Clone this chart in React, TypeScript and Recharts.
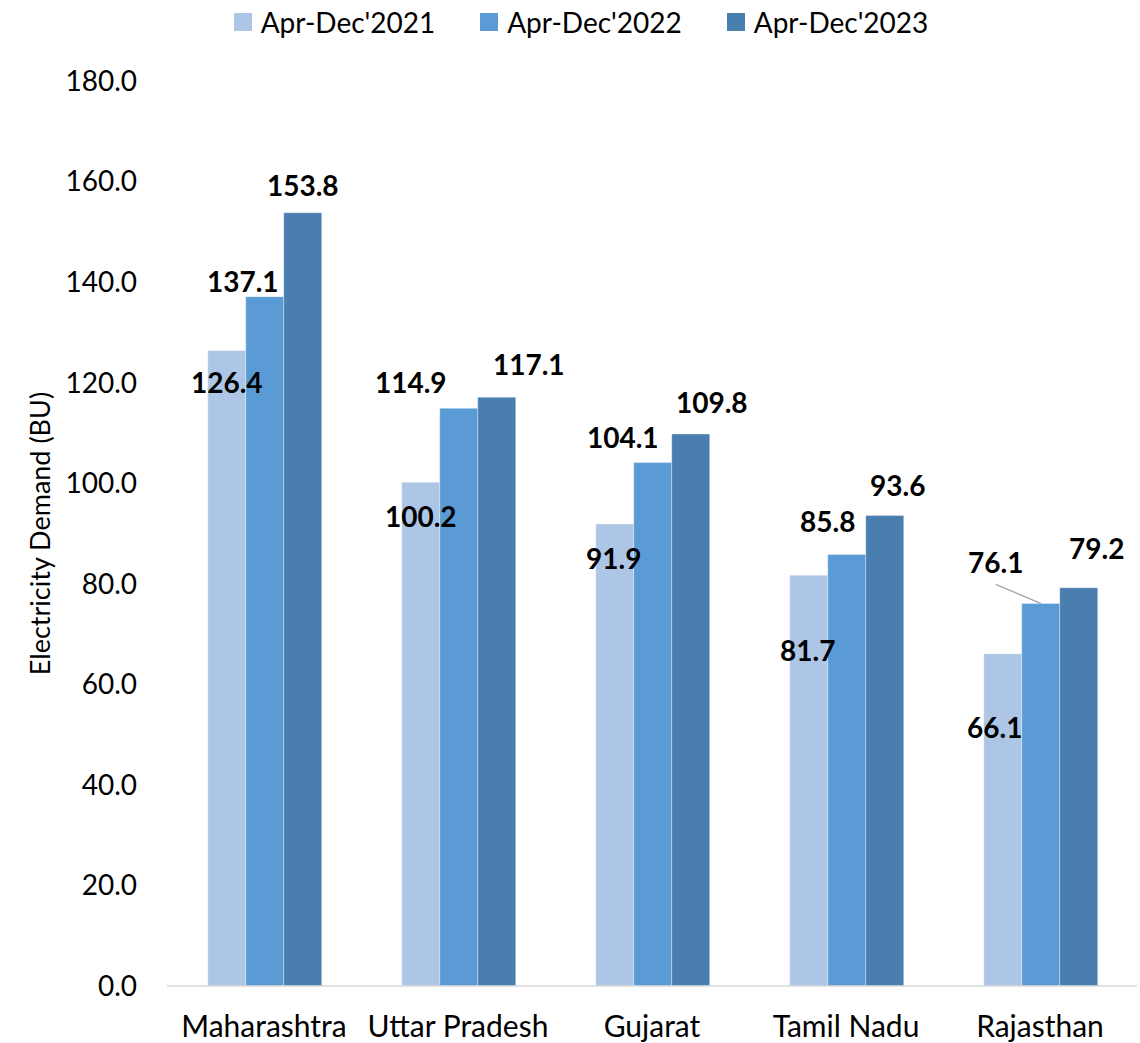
import { BarChart, Bar, XAxis, YAxis, Legend, LabelList } from 'recharts'

const states = ['Maharashtra', 'Uttar Pradesh', 'Gujarat', 'Tamil Nadu', 'Rajasthan']
const demand2021 = [126.4, 100.2, 91.9, 81.7, 66.1]
const demand2022 = [137.1, 114.9, 104.1, 85.8, 76.1]
const demand2023 = [153.8, 117.1, 109.8, 93.6, 79.2]
const yTicks = [0, 20, 40, 60, 80, 100, 120, 140, 160, 180]

const FONT = 'Lato, "Open Sans", sans-serif'

const chartData = states.map(function (state, i) {
  return { state, y2021: demand2021[i], y2022: demand2022[i], y2023: demand2023[i] }
})

const seriesList = [
  { key: 'y2021', name: "Apr-Dec'2021", color: '#AEC6E6' },
  { key: 'y2022', name: "Apr-Dec'2022", color: '#5B9BD5' },
  { key: 'y2023', name: "Apr-Dec'2023", color: '#4A7EB0' },
]

// hand-placed nudges [dx, dy] from the top centre of each bar to its label centre
const labelNudge: Record<string, number[][]> = {
  y2021: [[0, 33], [0, 35], [-1, 35], [-1, 76], [-8, 74]],
  y2022: [[-22, -15], [-48, -25], [-30, -25], [-19, -33], [-45, -40]],
  y2023: [[0, -27], [32, -32], [21, -31], [13, -29], [18, -39]],
}

function makeLabel(key: string) {
  return function ValueLabel(props: any) {
    const { x, y, width, value, index } = props
    const [dx, dy] = labelNudge[key][index]
    const cx = x + width / 2
    const lx = cx + dx
    const ly = y + dy
    // Rajasthan 2022 label sits off to the left, joined back with a leader line
    const leader = key === 'y2022' && index === 4
    return (
      <g>
        {leader && (
          <line x1={lx} y1={ly + 21} x2={cx} y2={y} stroke="#A6A6A6" strokeWidth={1.5} />
        )}
        <text
          x={lx}
          y={ly + 10}
          textAnchor="middle"
          fontFamily={FONT}
          fontSize={28}
          fontWeight={700}
          fill="#000"
        >
          {Number(value).toFixed(1)}
        </text>
      </g>
    )
  }
}

function LegendRow() {
  return (
    <div style={{
      display: 'flex',
      justifyContent: 'center',
      alignItems: 'center',
      width: 1140,
      height: 44,
      paddingLeft: 22,
      boxSizing: 'border-box',
      fontFamily: FONT,
      fontSize: 28,
      color: '#000',
    }}>
      {seriesList.map(function (s, i) {
        return (
          <div key={s.key} style={{ display: 'flex', alignItems: 'center', marginLeft: i ? 45 : 0 }}>
            <span style={{ display: 'inline-block', width: 18, height: 18, background: s.color, marginRight: 9 }} />
            <span>{s.name}</span>
          </div>
        )
      })}
    </div>
  )
}

function AxisTitle(props: any) {
  const vb = props.viewBox
  return (
    <text
      transform={`translate(${vb.x + 3}, ${vb.y + vb.height / 2}) rotate(-90)`}
      textAnchor="middle"
      fontFamily={FONT}
      fontSize={27}
      fill="#000"
    >
      Electricity Demand (BU)
    </text>
  )
}

export default function App() {
  return (
    <div style={{ position: 'absolute', left: 0, top: 0, width: 1140, height: 1043, background: '#fff' }}>
      <BarChart
        width={1140}
        height={1043}
        data={chartData}
        margin={{ top: 37, right: 3, bottom: 0, left: 47 }}
        barCategoryGap="21%"
        barGap={0}
      >
        <Legend
          verticalAlign="top"
          align="left"
          content={LegendRow}
          wrapperStyle={{ top: 0, left: 0, width: 1140, height: 44 }}
        />
        <XAxis
          dataKey="state"
          height={57}
          tickLine={false}
          axisLine={{ stroke: '#D9D9D9', strokeWidth: 1.5 }}
          tickMargin={24}
          tick={{ fontSize: 30, fill: '#000', fontFamily: FONT }}
          interval={0}
        />
        <YAxis
          width={120}
          domain={[0, 180]}
          ticks={yTicks}
          tickFormatter={function (v: number) { return v.toFixed(1) }}
          tickLine={false}
          axisLine={false}
          tickMargin={24}
          tick={{ fontSize: 28, fill: '#000', fontFamily: FONT }}
          label={{ content: AxisTitle }}
        />
        {seriesList.map(function (s) {
          return (
            <Bar
              key={s.key}
              dataKey={s.key}
              name={s.name}
              fill={s.color}
              stroke="#ffffff"
              strokeOpacity={0.35}
              strokeWidth={1}
              isAnimationActive={false}
            >
              <LabelList dataKey={s.key} content={makeLabel(s.key)} />
            </Bar>
          )
        })}
      </BarChart>
    </div>
  )
}
